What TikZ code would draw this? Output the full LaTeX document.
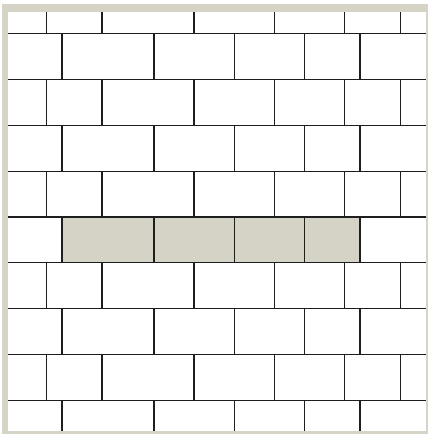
\documentclass[tikz,border=0pt]{standalone}
\definecolor{frame}{HTML}{D6D3C7}
\definecolor{hl}{HTML}{D5D2C6}
\definecolor{edge}{HTML}{1E1E1E}
\begin{document}
\begin{tikzpicture}[x=1pt,y=-1pt,
  joint/.style={draw=edge,line width=1.2pt}]
\useasboundingbox (0,0) rectangle (428,434);
\fill[white] (0,0) rectangle (428,434);
\fill[frame] (2,4) rectangle (428,434);
\fill[white] (8,12) rectangle (426,431);
% highlighted course
\fill[hl] (62,217) rectangle (360,262.5);
% horizontal joints
\foreach \y in {33.5,79.5,125.5,171.5,217,262.5,308.5,354.5,400.5}
  \draw[joint] (8,\y) -- (426,\y);
% odd courses
\foreach \a/\b in {12/33.5,79.5/125.5,171.5/217,262.5/308.5,354.5/400.5}
  \foreach \x in {46.7,102,194,274.5,344.5,400.5}
    \draw[joint] (\x,\a) -- (\x,\b);
% even courses
\foreach \a/\b in {33.5/79.5,125.5/171.5,217/262.5,308.5/354.5,400.5/431}
  \foreach \x in {62,154,234.3,304.7,360}
    \draw[joint] (\x,\a) -- (\x,\b);
\end{tikzpicture}
\end{document}
